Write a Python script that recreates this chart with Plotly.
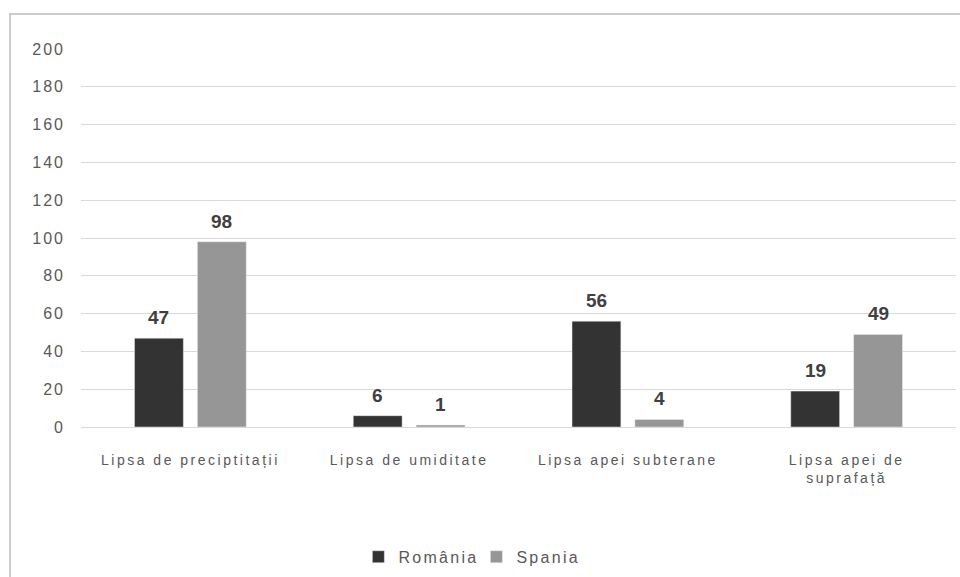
import plotly.graph_objects as go

categories = ["Lipsa de preciptitații", "Lipsa de umiditate", "Lipsa apei subterane", "Lipsa apei de<br>suprafață"]
romania = [47, 6, 56, 19]
spania = [98, 1, 4, 49]
series_names = ["România", "Spania"]
tick_vals = list(range(0, 201, 20))

BARGAP = 0.425
GROUPGAP = 0.223
FONT = "Liberation Sans, Arial, sans-serif"

fig = go.Figure()
fig.add_trace(go.Bar(x=categories, y=romania, name=series_names[0], marker_color="#333333"))
fig.add_trace(go.Bar(x=categories, y=spania, name=series_names[1], marker_color="#969696"))

# value labels placed above each bar (through the axis scales)
off = (1 - BARGAP) / 4
annotations = []
for sign, vals in ((-1, romania), (1, spania)):
    for i, v in enumerate(vals):
        annotations.append(dict(x=i + sign * off, y=v, xref="x", yref="y", text=str(v),
                                showarrow=False, yanchor="bottom", yshift=8,
                                font=dict(family=FONT, size=19, color="#404040", weight="bold")))

fig.update_layout(
    width=960, height=577,
    margin=dict(l=81, r=4, t=49, b=149),
    paper_bgcolor="white", plot_bgcolor="white",
    barmode="group", bargap=BARGAP, bargroupgap=GROUPGAP,
    font=dict(family=FONT, size=14, color="#595959"),
    showlegend=True,
    legend=dict(orientation="h", x=0.317, xanchor="left", y=-0.340, yanchor="middle",
                font=dict(size=16, color="#595959"), itemwidth=30, traceorder="normal",
                entrywidth=73),
    annotations=annotations,
    shapes=[dict(type="rect", xref="paper", yref="paper", x0=-0.0811, x1=1.2, y0=-0.6, y1=1.0923,
                 line=dict(color="#cccccc", width=2), fillcolor="rgba(0,0,0,0)", layer="below")],
)
fig.update_yaxes(range=[0, 200], tickvals=tick_vals, showgrid=True, gridcolor="#d9d9d9", gridwidth=1,
                 zeroline=False, showline=False, ticks="", ticklabelstandoff=15,
                 tickfont=dict(size=16, color="#595959"))
fig.update_xaxes(showline=True, linecolor="#d9d9d9", linewidth=1, ticks="", ticklabelstandoff=20,
                 tickfont=dict(size=14, color="#595959"))

post = """
var gd = document.getElementById('{plot_id}');
document.body.style.margin = '0';
function ls(){
  gd.querySelectorAll('.xtick text').forEach(function(t){t.style.letterSpacing='2.5px';});
  gd.querySelectorAll('.ytick text').forEach(function(t){t.style.letterSpacing='2px';});
  gd.querySelectorAll('.legendtext').forEach(function(t){t.style.letterSpacing='2.3px';});
}
ls();
gd.on('plotly_afterplot', ls);
"""

fig.write_html("out.html", post_script=post, config={"displayModeBar": False})
